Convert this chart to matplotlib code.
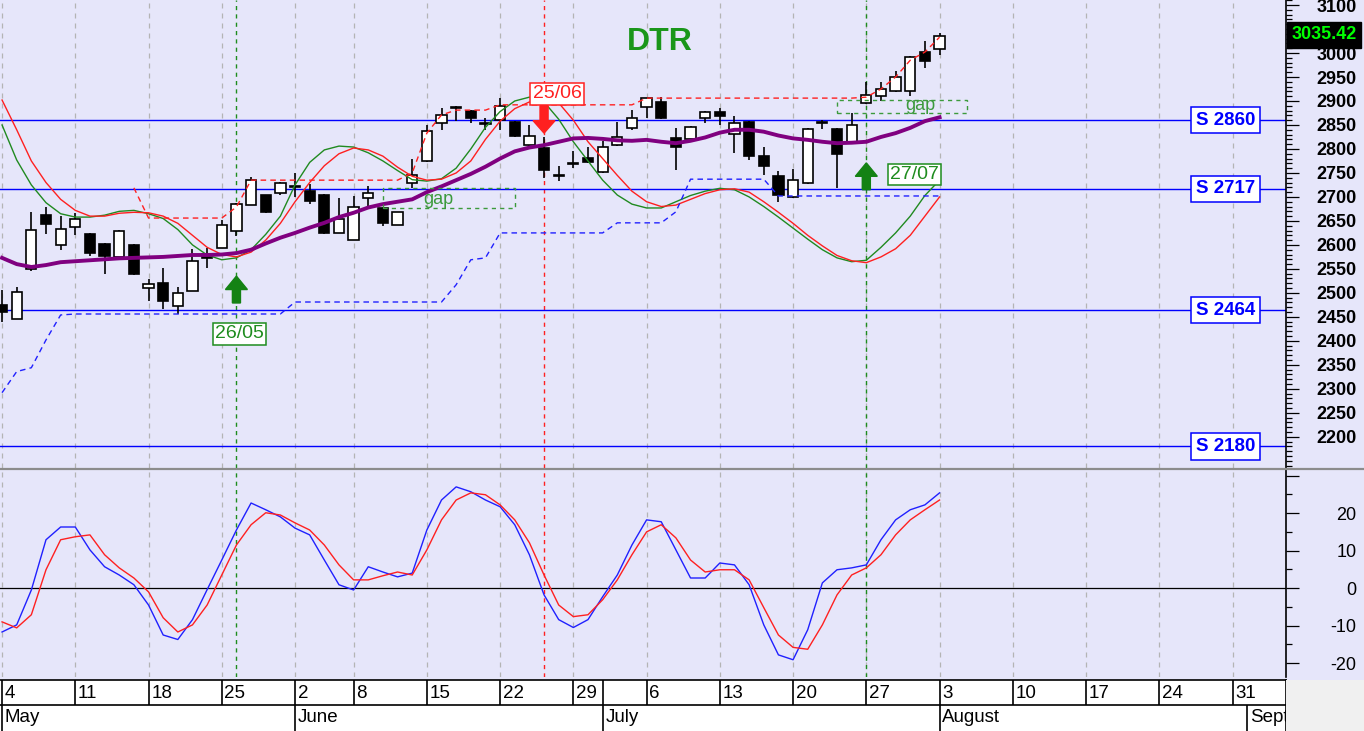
import matplotlib
matplotlib.use('Agg')
import matplotlib.pyplot as plt
from matplotlib.patches import Rectangle, FancyArrow
from matplotlib.ticker import MultipleLocator
from matplotlib.transforms import blended_transform_factory
from matplotlib.lines import Line2D
import numpy as np

plt.rcParams['font.family'] = ['Liberation Sans', 'DejaVu Sans']

# trading day index, 0 = 4 May
days = np.arange(65)

opens = [2475, 2446, 2550, 2662, 2600, 2637, 2623, 2602, 2575, 2600,
         2511, 2520, 2472, 2503, 2582, 2594, 2629, 2683, 2703, 2709,
         2720, 2713, 2705, 2625, 2610, 2697, 2676, 2641, 2730, 2775,
         2854, 2885, 2879, 2854, 2860, 2856, 2808, 2802, 2746, 2769,
         2781, 2752, 2808, 2843, 2887, 2898, 2823, 2821, 2864, 2877,
         2831, 2856, 2786, 2744, 2700, 2729, 2854, 2841, 2812, 2896,
         2910, 2921, 2921, 3002, 3008]
highs = [2506, 2512, 2669, 2680, 2660, 2666, 2625, 2604, 2631, 2602,
         2528, 2551, 2513, 2592, 2594, 2652, 2687, 2742, 2705, 2732,
         2749, 2728, 2707, 2697, 2701, 2722, 2678, 2668, 2779, 2849,
         2885, 2889, 2881, 2864, 2906, 2858, 2849, 2825, 2765, 2796,
         2804, 2816, 2856, 2881, 2907, 2908, 2843, 2847, 2879, 2885,
         2869, 2858, 2804, 2755, 2759, 2843, 2860, 2843, 2875, 2940,
         2940, 2963, 2994, 3025, 3042]
lows = [2440, 2446, 2546, 2623, 2590, 2621, 2577, 2540, 2573, 2538,
        2483, 2466, 2456, 2503, 2551, 2594, 2619, 2683, 2666, 2705,
        2699, 2685, 2623, 2625, 2610, 2676, 2639, 2641, 2718, 2772,
        2839, 2858, 2854, 2839, 2839, 2825, 2806, 2740, 2734, 2761,
        2771, 2750, 2806, 2839, 2864, 2862, 2757, 2819, 2854, 2849,
        2792, 2777, 2746, 2690, 2698, 2727, 2841, 2719, 2810, 2894,
        2900, 2919, 2910, 2969, 2996]
closes = [2460, 2502, 2631, 2643, 2633, 2654, 2584, 2577, 2629, 2540,
          2518, 2483, 2499, 2567, 2573, 2641, 2685, 2735, 2668, 2730,
          2723, 2691, 2625, 2654, 2678, 2709, 2645, 2668, 2746, 2837,
          2871, 2887, 2864, 2851, 2890, 2827, 2827, 2757, 2744, 2771,
          2773, 2804, 2825, 2864, 2906, 2864, 2804, 2846, 2877, 2869,
          2854, 2786, 2765, 2704, 2735, 2841, 2856, 2790, 2850, 2912,
          2925, 2950, 2992, 2983, 3035.42]

fast_line = [2850, 2777, 2725, 2688, 2665, 2658, 2658, 2662, 2670, 2672,
             2665, 2655, 2632, 2600, 2579, 2569, 2573, 2590, 2622, 2660,
             2725, 2772, 2798, 2806, 2804, 2792, 2775, 2755, 2736, 2733,
             2738, 2760, 2800, 2845, 2878, 2900, 2908, 2898, 2862, 2815,
             2775, 2735, 2704, 2685, 2677, 2677, 2690, 2703, 2712, 2718,
             2715, 2700, 2680, 2658, 2635, 2612, 2590, 2573, 2565, 2568,
             2595, 2625, 2660, 2703, 2735]
slow_line = [2902, 2840, 2775, 2730, 2695, 2672, 2660, 2660, 2666, 2668,
             2667, 2660, 2645, 2620, 2595, 2580, 2575, 2585, 2610, 2645,
             2690, 2730, 2765, 2790, 2802, 2798, 2785, 2762, 2743, 2735,
             2737, 2750, 2775, 2820, 2858, 2884, 2898, 2903, 2896, 2860,
             2815, 2780, 2745, 2712, 2690, 2680, 2683, 2695, 2707, 2715,
             2717, 2710, 2690, 2668, 2645, 2620, 2598, 2578, 2567, 2563,
             2575, 2592, 2620, 2660, 2700]
mov_avg = [2573, 2560, 2554, 2558, 2564, 2566, 2568, 2570, 2572, 2573,
           2574, 2575, 2577, 2579, 2579, 2580, 2583, 2590, 2603, 2615,
           2625, 2636, 2646, 2658, 2667, 2678, 2685, 2690, 2695, 2710,
           2722, 2735, 2748, 2763, 2780, 2795, 2803, 2808, 2815, 2822,
           2823, 2821, 2818, 2817, 2819, 2815, 2812, 2817, 2824, 2834,
           2840, 2840, 2836, 2828, 2822, 2819, 2815, 2812, 2813, 2815,
           2825, 2833, 2844, 2858, 2866]

nan = np.nan
resistance = [nan, nan, nan, nan, nan, nan, nan, nan, nan, 2719,
              2656, 2656, 2656, 2656, 2656, 2656, 2679, 2735, 2735, 2735,
              2735, 2735, 2735, 2735, 2735, 2735, 2735, 2735, 2750, 2833,
              2871, 2881, 2881, 2881, 2892, 2892, 2892, 2892, 2892, 2892,
              2892, 2892, 2892, 2892, 2906, 2906, 2906, 2906, 2906, 2906,
              2906, 2906, 2906, 2906, 2906, 2906, 2906, 2906, 2906, 2908,
              2925, 2950, 2985, 3002, 3033]
support = [2292, 2336, 2344, 2402, 2454, 2456, 2456, 2456, 2456, 2456,
           2456, 2456, 2456, 2456, 2456, 2456, 2456, 2456, 2456, 2456,
           2481, 2481, 2481, 2481, 2481, 2481, 2481, 2481, 2481, 2481,
           2481, 2517, 2569, 2573, 2625, 2625, 2625, 2625, 2625, 2625,
           2625, 2625, 2646, 2646, 2646, 2646, 2669, 2737, 2737, 2737,
           2737, 2737, 2737, 2702, 2702, 2702, 2702, 2702, 2702, 2702,
           2702, 2702, 2702, 2702, 2702]

osc_fast = [-11.7, -9.8, -0.5, 12.9, 16.3, 16.3, 10.2, 5.7, 3.5, 0.9,
            -4.5, -12.5, -13.7, -8.4, -0.4, 7.5, 15.5, 22.7, 20.9, 19.0,
            16.0, 14.2, 7.5, 0.9, -0.5, 5.7, 4.3, 3.0, 4.0, 15.5,
            23.5, 27.0, 25.7, 23.5, 21.7, 16.9, 8.9, -1.8, -8.4, -10.5,
            -8.4, -2.3, 3.5, 11.5, 18.2, 17.7, 10.2, 2.7, 2.7, 6.7,
            6.2, 0.9, -9.8, -17.8, -19.1, -11.1, 1.4, 4.9, 5.4, 6.2,
            12.9, 18.2, 20.9, 22.2, 25.4]
osc_slow = [-9.0, -10.6, -7.1, 4.9, 12.9, 13.7, 14.2, 8.9, 5.4, 2.7,
            -1.0, -7.9, -11.7, -9.8, -4.5, 3.5, 11.5, 16.9, 20.1, 19.5,
            17.4, 15.5, 11.5, 6.2, 2.2, 2.2, 3.3, 4.3, 3.5, 10.2,
            18.2, 23.5, 25.4, 24.9, 22.2, 18.2, 12.1, 3.5, -4.5, -7.6,
            -7.1, -3.1, 2.2, 8.9, 15.0, 16.9, 13.4, 7.5, 4.3, 4.9,
            4.9, 2.2, -5.2, -12.5, -15.8, -16.3, -9.8, -1.8, 3.5, 5.4,
            8.9, 14.2, 18.2, 20.9, 23.5]

support_levels = [2860, 2717, 2464, 2180]
week_days = [0, 5, 10, 15, 20, 24, 29, 34, 39, 44, 49, 54, 59, 64, 69, 74, 79, 84]
week_labels = ['4', '11', '18', '25', '2', '8', '15', '22', '29', '6', '13',
               '20', '27', '3', '10', '17', '24', '31']
month_days = [0, 20, 41, 64, 85]
month_labels = ['May', 'June', 'July', 'August', 'Sept']

buy_days = [16, 59]
sell_days = [37]

BG = '#E6E6FA'
GREEN = '#1E8C1E'
RED = '#FF2020'
BLUE = '#0000FF'
XLIM = (-0.14, 87.65)
W = 1286 / 1364

fig = plt.figure(figsize=(13.64, 7.31), dpi=100, facecolor=BG)
ax = fig.add_axes([0, 1 - 468 / 731, W, 468 / 731], facecolor=BG)
ax2 = fig.add_axes([0, 1 - 677 / 731, W, 207 / 731], facecolor=BG)

for a in (ax, ax2):
    a.set_xlim(*XLIM)
    for s in ('left', 'top', 'bottom'):
        a.spines[s].set_visible(False)
    a.spines['right'].set_linewidth(1.2)
    a.tick_params(axis='x', which='both', bottom=False, labelbottom=False)
    a.yaxis.tick_right()
    for d in week_days:
        a.axvline(d, color='#B4B4B4', ls=(0, (4, 4)), lw=0.9, zorder=1)
    for d in buy_days:
        a.axvline(d, color=GREEN, ls=(0, (3, 3)), lw=1.0, zorder=2)
    for d in sell_days:
        a.axvline(d, color=RED, ls=(0, (3, 3)), lw=1.0, zorder=2)

# main panel
ax.set_ylim(2135, 3110.5)
tick_vals = list(range(2200, 3101, 50))
ax.set_yticks(tick_vals)
# 3050 sits behind the last-price box in the original
ax.set_yticklabels(['' if v == 3050 else str(v) for v in tick_vals],
                   fontweight='bold', ha='right')
ax.yaxis.set_minor_locator(MultipleLocator(10))
ax.tick_params(axis='y', which='major', length=9.4, width=0.9, labelsize=13, pad=41.5)
ax.tick_params(axis='y', which='minor', length=4.3, width=0.9)

for lvl in support_levels:
    ax.axhline(lvl, color=BLUE, lw=1.0, zorder=2)
    ax.text(83.5, lvl, 'S %d' % lvl, ha='center', va='center', fontsize=13.5,
            fontweight='bold', color=BLUE, zorder=9,
            bbox=dict(boxstyle='square,pad=0.25', fc='white', ec=BLUE, lw=1.1))

o = np.array(opens)
c = np.array(closes)
body_lo = np.minimum(o, c)
body_h = np.maximum(np.abs(c - o), 0.8)
cols = ['white' if cc >= oo else 'black' for oo, cc in zip(o, c)]
ax.vlines(days, lows, highs, color='black', lw=1.2, zorder=4)
ax.bar(days, body_h, bottom=body_lo, width=0.7, color=cols, edgecolor='black',
       linewidth=1.2, zorder=5)

ax.plot(days, fast_line, color='#208A20', lw=1.0, zorder=6)
ax.plot(days, slow_line, color=RED, lw=1.0, zorder=6)
ax.plot(days, mov_avg, color='#800080', lw=2.8, zorder=6)
ax.plot(days, resistance, color=RED, lw=1.0, ls=(0, (4, 3)), zorder=7)
ax.plot(days, support, color='#2020FF', lw=1.0, ls=(0, (4, 3)), zorder=7)

# gaps
GAPC = '#3C9A3C'
for x0, x1, y0, y1, tx, ty in [(26.0, 35.0, 2677, 2719, 29.8, 2694),
                               (57.0, 65.9, 2875, 2902, 62.7, 2890)]:
    ax.add_patch(Rectangle((x0, y0), x1 - x0, y1 - y0, fill=False, ec=GAPC,
                           ls=(0, (3, 3)), lw=1.0, zorder=7))
    ax.text(tx, ty, 'gap', ha='center', va='center', fontsize=13, color=GAPC, zorder=8)

# signals
ax.add_patch(FancyArrow(16, 2479, 0, 56, width=0.55, head_width=1.5, head_length=28,
                        length_includes_head=True, color='#148214', zorder=8))
ax.add_patch(FancyArrow(59, 2715, 0, 56, width=0.55, head_width=1.5, head_length=28,
                        length_includes_head=True, color='#148214', zorder=8))
ax.add_patch(FancyArrow(37, 2890, 0, -57, width=0.55, head_width=1.5, head_length=26,
                        length_includes_head=True, color=RED, zorder=8))
for tx, ty, txt, col in [(16.2, 2415, '26/05', GREEN), (62.3, 2747, '27/07', GREEN),
                         (37.9, 2915, '25/06', RED)]:
    ax.text(tx, ty, txt, ha='center', va='center', fontsize=14, color=col, zorder=9,
            bbox=dict(boxstyle='square,pad=0.12', fc='white', ec=col, lw=1.1))

ax.text(44.9, 3023, 'DTR', ha='center', va='center', fontsize=23, fontweight='bold',
        color='#1A961A', zorder=9)

trans = blended_transform_factory(ax.transAxes, ax.transData)
ax.text(1.004, closes[-1] + 3, '%.2f' % closes[-1], transform=trans, ha='left', va='center',
        color='#00FF00', fontsize=13, fontweight='bold', clip_on=False, zorder=10,
        bbox=dict(boxstyle='square,pad=0.25', fc='black', ec='black'))

# oscillator panel
ax2.set_ylim(-23.7, 31.5)
ax2.set_yticks([-20, -10, 0, 10, 20, 30])
ax2.set_yticklabels(['-20', '-10', '0', '10', '20', ''], ha='right')
ax2.yaxis.set_minor_locator(MultipleLocator(5))
ax2.tick_params(axis='y', which='major', length=9.4, width=0.9, labelsize=13, pad=41.5)
ax2.tick_params(axis='y', which='minor', length=4.3, width=0.9)
ax2.axhline(0, color='black', lw=0.9, zorder=2)
ax2.plot(days, osc_fast, color='#2020FF', lw=1.0, zorder=5)
ax2.plot(days, osc_slow, color=RED, lw=1.0, zorder=5)

fig.add_artist(Line2D([0, 1], [1 - 469 / 731] * 2, color='#8C8C8C', lw=1.6))

# date rows
row1 = fig.add_axes([0, 26 / 731, W, 25 / 731], facecolor='white')
row2 = fig.add_axes([0, 0, W, 26 / 731], facecolor='white')
fig.add_artist(Rectangle((W, 0), 1 - W, 51 / 731, transform=fig.transFigure,
                         fc='#F0F0F0', ec='none'))
for r in (row1, row2):
    r.set_xlim(*XLIM)
    r.set_ylim(0, 1)
    r.set_xticks([])
    r.set_yticks([])
    r.spines['left'].set_visible(False)
    r.spines['bottom'].set_visible(False)
    r.spines['top'].set_linewidth(1.2)
    r.spines['right'].set_linewidth(1.2)
for d, lab in zip(week_days, week_labels):
    row1.axvline(d, color='black', lw=1.2)
    row1.text(d + 0.18, 0.45, lab, ha='left', va='center', fontsize=13.5, clip_on=True)
row1.axvline(41, color='black', lw=1.2)
for d, lab in zip(month_days, month_labels):
    row2.axvline(d, color='black', lw=1.2)
    row2.text(d + 0.18, 0.5, lab, ha='left', va='center', fontsize=13.5, clip_on=True)

fig.savefig('out.png', dpi=100, facecolor=BG)
